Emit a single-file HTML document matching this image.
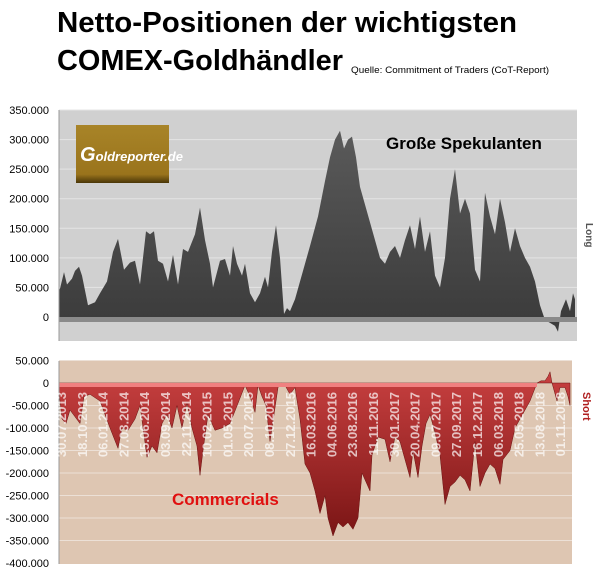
<!DOCTYPE html>
<html><head><meta charset="utf-8"><style>
body{margin:0;background:#fff;width:601px;height:583px;overflow:hidden}
svg{display:block}
text{font-family:"Liberation Sans",sans-serif}
</style></head><body>
<svg id="s" width="601" height="583" viewBox="0 0 601 583" xmlns="http://www.w3.org/2000/svg">
<defs>
<linearGradient id="gd" x1="0" y1="0" x2="0" y2="1"><stop offset="0" stop-color="#5a5a5a"/><stop offset="1" stop-color="#3a3a3a"/></linearGradient>
<linearGradient id="rd" x1="0" y1="0" x2="0" y2="1"><stop offset="0" stop-color="#c84040"/><stop offset="1" stop-color="#7a1515"/></linearGradient>
<linearGradient id="gold" x1="0" y1="0" x2="0" y2="1"><stop offset="0" stop-color="#a88428"/><stop offset="0.85" stop-color="#9a741c"/><stop offset="1" stop-color="#4a3608"/></linearGradient>
</defs>
<text x="57" y="32" font-size="29" font-weight="bold" textLength="460" lengthAdjust="spacingAndGlyphs">Netto-Positionen der wichtigsten</text>
<text x="57" y="70" font-size="29" font-weight="bold" textLength="286" lengthAdjust="spacingAndGlyphs">COMEX-Goldhändler</text>
<text x="351" y="73" font-size="9.5" textLength="198" lengthAdjust="spacingAndGlyphs">Quelle: Commitment of Traders (CoT-Report)</text>
<rect x="59" y="110" width="518" height="231" fill="#d0d0d0"/>
<g id="tg" stroke="#e4e4e4" stroke-width="1"></g>
<path id="tp" fill="url(#gd)"/>
<rect x="59" y="317" width="518" height="5" fill="#8a8a8a"/>
<line x1="59" y1="110" x2="59" y2="341" stroke="#999"/>
<g id="tl" font-size="11" text-anchor="end"></g>
<rect x="76" y="125" width="93" height="58" fill="url(#gold)"/>
<text x="80" y="161" font-size="13" font-style="italic" font-weight="bold" fill="#fff"><tspan font-size="20">G</tspan>oldreporter.de</text>
<text x="386" y="149" font-size="17" font-weight="bold">Große Spekulanten</text>
<text transform="translate(586,223) rotate(90)" font-size="10" font-weight="bold" fill="#555">Long</text>
<rect x="59" y="361" width="513" height="203" fill="#dec6b2"/>
<g id="bg" stroke="#ece0d6" stroke-width="1"></g>
<path id="bp" fill="url(#rd)" stroke="#6a1010" stroke-width="0.5"/>
<rect x="59" y="383" width="478" height="4" fill="#f08080"/>
<line x1="59" y1="361" x2="59" y2="564" stroke="#999"/>
<g id="bl" font-size="11" text-anchor="end"></g>
<g id="dl" font-size="13" font-weight="bold" fill="#fff" fill-opacity="0.7"></g>
<text x="172" y="505" font-size="17" font-weight="bold" fill="#e01010">Commercials</text>
<text transform="translate(583,392) rotate(90)" font-size="11" font-weight="bold" fill="#b02020">Short</text>
</svg>
<script>
var NS="http://www.w3.org/2000/svg";
function el(p,t,a,tx){var e=document.createElementNS(NS,t);for(var k in a)e.setAttribute(k,a[k]);if(tx!=null)e.textContent=tx;document.getElementById(p).appendChild(e);}
function fmt(v){var s=Math.abs(v)>=1000?(Math.abs(v)/1000).toFixed(3).replace(/\.?$/,''):String(Math.abs(v));if(Math.abs(v)>=1000){s=Math.floor(Math.abs(v)/1000)+'.'+('00'+(Math.abs(v)%1000)).slice(-3);}return (v<0?'-':'')+s;}
// top axis
var tz=317,ts=29.57/50;
for(var v=0;v<=350;v+=50){var y=tz-v*ts;if(v>0)el('tg','line',{x1:59,x2:577,y1:y,y2:y});el('tl','text',{x:49,y:y+4},fmt(v*1000));}
var T=[[59,45],[60,48],[64,76],[67,55],[72,65],[75,78],[79,85],[82,70],[88,20],[95,25],[100,40],[107,60],[113,110],[118,132],[124,80],[130,92],[135,95],[140,55],[146,145],[150,140],[154,145],[158,95],[163,90],[168,60],[173,105],[178,55],[183,115],[188,110],[195,140],[200,185],[205,130],[210,90],[213,50],[220,95],[225,98],[230,70],[233,120],[237,90],[242,70],[245,90],[250,40],[255,25],[260,40],[265,68],[268,50],[272,110],[276,155],[280,100],[284,5],[287,15],[290,10],[295,30],[300,60],[310,120],[318,170],[325,230],[330,270],[335,300],[340,315],[344,285],[348,300],[352,305],[356,270],[360,220],[365,190],[370,160],[375,130],[380,100],[385,90],[390,110],[395,120],[400,100],[405,130],[410,155],[415,115],[420,170],[425,110],[430,145],[435,70],[440,50],[445,100],[450,200],[455,250],[460,175],[465,200],[470,175],[475,80],[480,60],[485,210],[490,170],[495,140],[500,200],[505,160],[510,110],[515,150],[520,120],[525,100],[530,85],[535,60],[540,20],[545,-5],[550,-10],[555,-15],[558,-25],[561,10],[566,30],[570,10],[573,40],[575,30]];
var d='M59,'+tz;T.forEach(function(p){d+=' L'+p[0]+','+(tz-p[1]*ts).toFixed(1);});d+=' L575,'+tz+' Z';document.getElementById('tp').setAttribute('d',d);
// bottom
var bz=383,bs=22.5/50;
for(var v=50;v>=-400;v-=50){var y=bz-v*bs;if(v!=0&&v!=-400)el('bg','line',{x1:59,x2:572,y1:y,y2:y});el('bl','text',{x:49,y:y+4},fmt(v*1000));}
var B=[[59,-20],[62,-80],[66,-90],[70,-60],[75,-75],[80,-90],[84,-30],[90,-25],[100,-40],[110,-100],[118,-145],[122,-100],[128,-105],[135,-80],[140,-50],[147,-165],[152,-140],[157,-155],[162,-90],[167,-70],[172,-100],[177,-50],[182,-100],[187,-45],[192,-100],[197,-140],[200,-205],[203,-150],[208,-70],[215,-105],[222,-100],[230,-90],[238,-45],[245,-5],[250,-30],[255,-65],[258,-5],[262,-30],[266,-50],[270,-130],[274,-70],[278,-10],[281,0],[285,-5],[290,-25],[295,-10],[300,-80],[305,-180],[310,-200],[315,-240],[320,-290],[325,-250],[328,-300],[333,-340],[338,-310],[343,-320],[348,-310],[353,-325],[358,-300],[362,-200],[366,-220],[370,-240],[372,-160],[378,-120],[385,-125],[390,-175],[395,-120],[400,-130],[405,-170],[410,-210],[413,-150],[418,-210],[422,-140],[426,-90],[430,-70],[435,-110],[440,-160],[445,-270],[450,-230],[455,-220],[460,-205],[465,-215],[470,-240],[475,-130],[480,-230],[485,-200],[490,-180],[495,-190],[500,-225],[503,-170],[510,-150],[515,-100],[520,-80],[530,-40],[537,0],[541,5],[545,5],[548,15],[550,25],[552,0],[557,-40],[560,-10],[565,-10],[568,-30],[570,-50]];
d='M59,'+bz;B.forEach(function(p){d+=' L'+p[0]+','+(bz-p[1]*bs).toFixed(1);});d+=' L570,'+bz+' Z';document.getElementById('bp').setAttribute('d',d);
var L=["30.07.2013","18.10.2013","06.01.2014","27.03.2014","15.06.2014","03.09.2014","22.11.2014","10.02.2015","01.05.2015","20.07.2015","08.10.2015","27.12.2015","16.03.2016","04.06.2016","23.08.2016","11.11.2016","30.01.2017","20.04.2017","09.07.2017","27.09.2017","16.12.2017","06.03.2018","25.05.2018","13.08.2018","01.11.2018"];
L.forEach(function(s,i){var x=66+i*20.8;el('dl','text',{transform:'translate('+x+',392) rotate(-90)','text-anchor':'end'},s);});
</script>
</body></html>
